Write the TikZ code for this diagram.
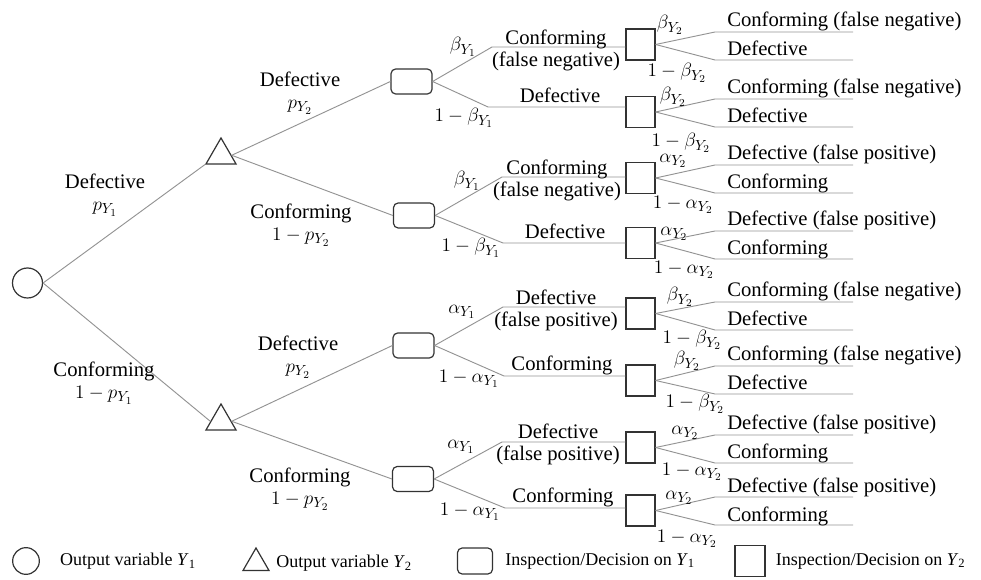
\documentclass[tikz,border=0pt]{standalone}
\usepackage{fontspec}
\setmainfont{Liberation Serif}
\usetikzlibrary{positioning, shapes.geometric, calc}

\begin{document}
\begin{tikzpicture}[
  x=0.75pt, y=-0.75pt,
  every node/.style={font=\fontsize{15.5}{16.5}\selectfont},
  chance/.style={circle, draw=black!80, line width=0.9pt, inner sep=0pt, minimum size=22.5pt},
  outvar/.style={regular polygon, regular polygon sides=3, draw=black!80, line width=0.9pt, inner sep=0pt, minimum size=26pt},
  insp1/.style={rectangle, rounded corners=3.5pt, draw=black!80, line width=0.9pt, inner sep=0pt, minimum width=30.75pt, minimum height=18.75pt},
  insp2/.style={rectangle, draw=black!80, line width=0.9pt, inner sep=0pt, minimum width=21.75pt, minimum height=23.25pt},
  branch/.style={gray!85, line width=0.7pt},
  lbl/.style={align=center, inner sep=0pt},
  mid/.style={anchor=base, inner sep=0pt},
  leaf/.style={anchor=base west, inner sep=0pt},
  prob/.style={inner sep=0pt},
  legtext/.style={font=\fontsize{13.5}{15}\selectfont, inner sep=0pt},
]
  \useasboundingbox (0,0) rectangle (981,580);

  \node[chance] (y1) at (27.5,283) {};
  \node[outvar] (a) at (221,155.3) {};
  \node[outvar] (b) at (221,421.3) {};
  \node[insp1] (aa) at (411.5,81.5) {};
  \node[insp1] (ab) at (414,215.5) {};
  \node[insp1] (ba) at (413.5,345.5) {};
  \node[insp1] (bb) at (413,479) {};
  \foreach \s/\y in {1/44.5, 2/112, 3/178, 4/243, 5/313.5, 6/380.5, 7/447.5, 8/510.5}
    \node[insp2] (s\s) at (640.5,\y) {};

  \draw[branch] (y1.east) -- (a.corner 2);
  \draw[branch] (y1.east) -- (b.west);
  \foreach \p/\c in {a/aa, a/ab, b/ba, b/bb}\draw[branch] (\p.east) -- (\c.west);
  \foreach \r/\s/\bx/\by in {aa/1/492/47, aa/2/488/107, ab/3/502/177, ab/4/503/243,
                             ba/5/503/307, ba/6/504/376, bb/7/502/442, bb/8/505/508}{
    \coordinate (k\s) at (\bx,\by);
    \draw[branch] (\r.east) -- (k\s) -- (k\s -| s\s.west);
  }
  \foreach \s/\y/\ta/\tb in {1/46/Conforming (false negative)/Defective,
                             2/113/Conforming (false negative)/Defective,
                             3/179/Defective (false positive)/Conforming,
                             4/245/Defective (false positive)/Conforming,
                             5/316/Conforming (false negative)/Defective,
                             6/380/Conforming (false negative)/Defective,
                             7/449/Defective (false positive)/Conforming,
                             8/511/Defective (false positive)/Conforming}{
    \coordinate (u\s) at (715,\y-14);
    \coordinate (d\s) at (715,\y+14);
    \coordinate (ue\s) at (853,\y-14);
    \coordinate (de\s) at (853,\y+14);
    \draw[branch] (s\s.east) -- (u\s) -- (ue\s);
    \draw[branch] (s\s.east) -- (d\s) -- (de\s);
    \node[leaf] at ($(u\s)+(12,-5)$) {\ta};
    \node[leaf] at ($(d\s)+(12,-4)$) {\tb};
  }

  \node[lbl] at (105,195) {Defective\\$p_{Y_1}$};
  \node[lbl] at (104,383) {Conforming\\$1-p_{Y_1}$};
  \node[lbl] at (300,93) {Defective\\$p_{Y_2}$};
  \node[lbl] at (301,225) {Conforming\\$1-p_{Y_2}$};
  \node[lbl] at (298,357) {Defective\\$p_{Y_2}$};
  \node[lbl] at (300,489) {Conforming\\$1-p_{Y_2}$};

  \node[lbl] at (556,50) {Conforming\\(false negative)};
  \node[mid] at (560,103) {Defective};
  \node[lbl] at (557,180) {Conforming\\(false negative)};
  \node[mid] at (565,239) {Defective};
  \node[lbl] at (556,310) {Defective\\(false positive)};
  \node[mid] at (562,371) {Conforming};
  \node[lbl] at (558,444) {Defective\\(false positive)};
  \node[mid] at (563,502) {Conforming};

  \node[prob] at (463,47) {$\beta_{Y_1}$};
  \node[prob] at (464,118) {$1-\beta_{Y_1}$};
  \node[prob] at (467,181) {$\beta_{Y_1}$};
  \node[prob] at (471,248) {$1-\beta_{Y_1}$};
  \node[prob] at (462,312) {$\alpha_{Y_1}$};
  \node[prob] at (469,379) {$1-\alpha_{Y_1}$};
  \node[prob] at (461,447) {$\alpha_{Y_1}$};
  \node[prob] at (470,512) {$1-\alpha_{Y_1}$};

  \node[prob] at (670,25) {$\beta_{Y_2}$};
  \node[prob] at (677,73) {$1-\beta_{Y_2}$};
  \node[prob] at (673,97) {$\beta_{Y_2}$};
  \node[prob] at (681,143) {$1-\beta_{Y_2}$};
  \node[prob] at (673,161) {$\alpha_{Y_2}$};
  \node[prob] at (683,205) {$1-\alpha_{Y_2}$};
  \node[prob] at (674,234) {$\alpha_{Y_2}$};
  \node[prob] at (684,270) {$1-\alpha_{Y_2}$};
  \node[prob] at (680,297) {$\beta_{Y_2}$};
  \node[prob] at (692,340) {$1-\beta_{Y_2}$};
  \node[prob] at (687,361) {$\beta_{Y_2}$};
  \node[prob] at (695,404) {$1-\beta_{Y_2}$};
  \node[prob] at (685,433) {$\alpha_{Y_2}$};
  \node[prob] at (692,472) {$1-\alpha_{Y_2}$};
  \node[prob] at (679,498) {$\alpha_{Y_2}$};
  \node[prob] at (687,539) {$1-\alpha_{Y_2}$};

  \node[chance, minimum size=20pt] (lc) at (26,561) {};
  \node[legtext, right=15pt of lc] (lct) {Output variable \textit{Y}\textsubscript{1}};
  \node[outvar, minimum size=22.5pt] (lt) at (256,563) {};
  \node[legtext, right=8pt of lt.east] (ltt) {Output variable \textit{Y}\textsubscript{2}};
  \node[insp1, minimum width=26.25pt, minimum height=19.5pt] (lr) at (475,561) {};
  \node[legtext, right=9pt of lr] (lrt) {Inspection/Decision on \textit{Y}\textsubscript{1}};
  \node[insp2, minimum width=22.5pt, minimum height=23.25pt] (ls) at (750,561) {};
  \node[legtext, right=7.5pt of ls] (lst) {Inspection/Decision on \textit{Y}\textsubscript{2}};
\end{tikzpicture}
\end{document}
